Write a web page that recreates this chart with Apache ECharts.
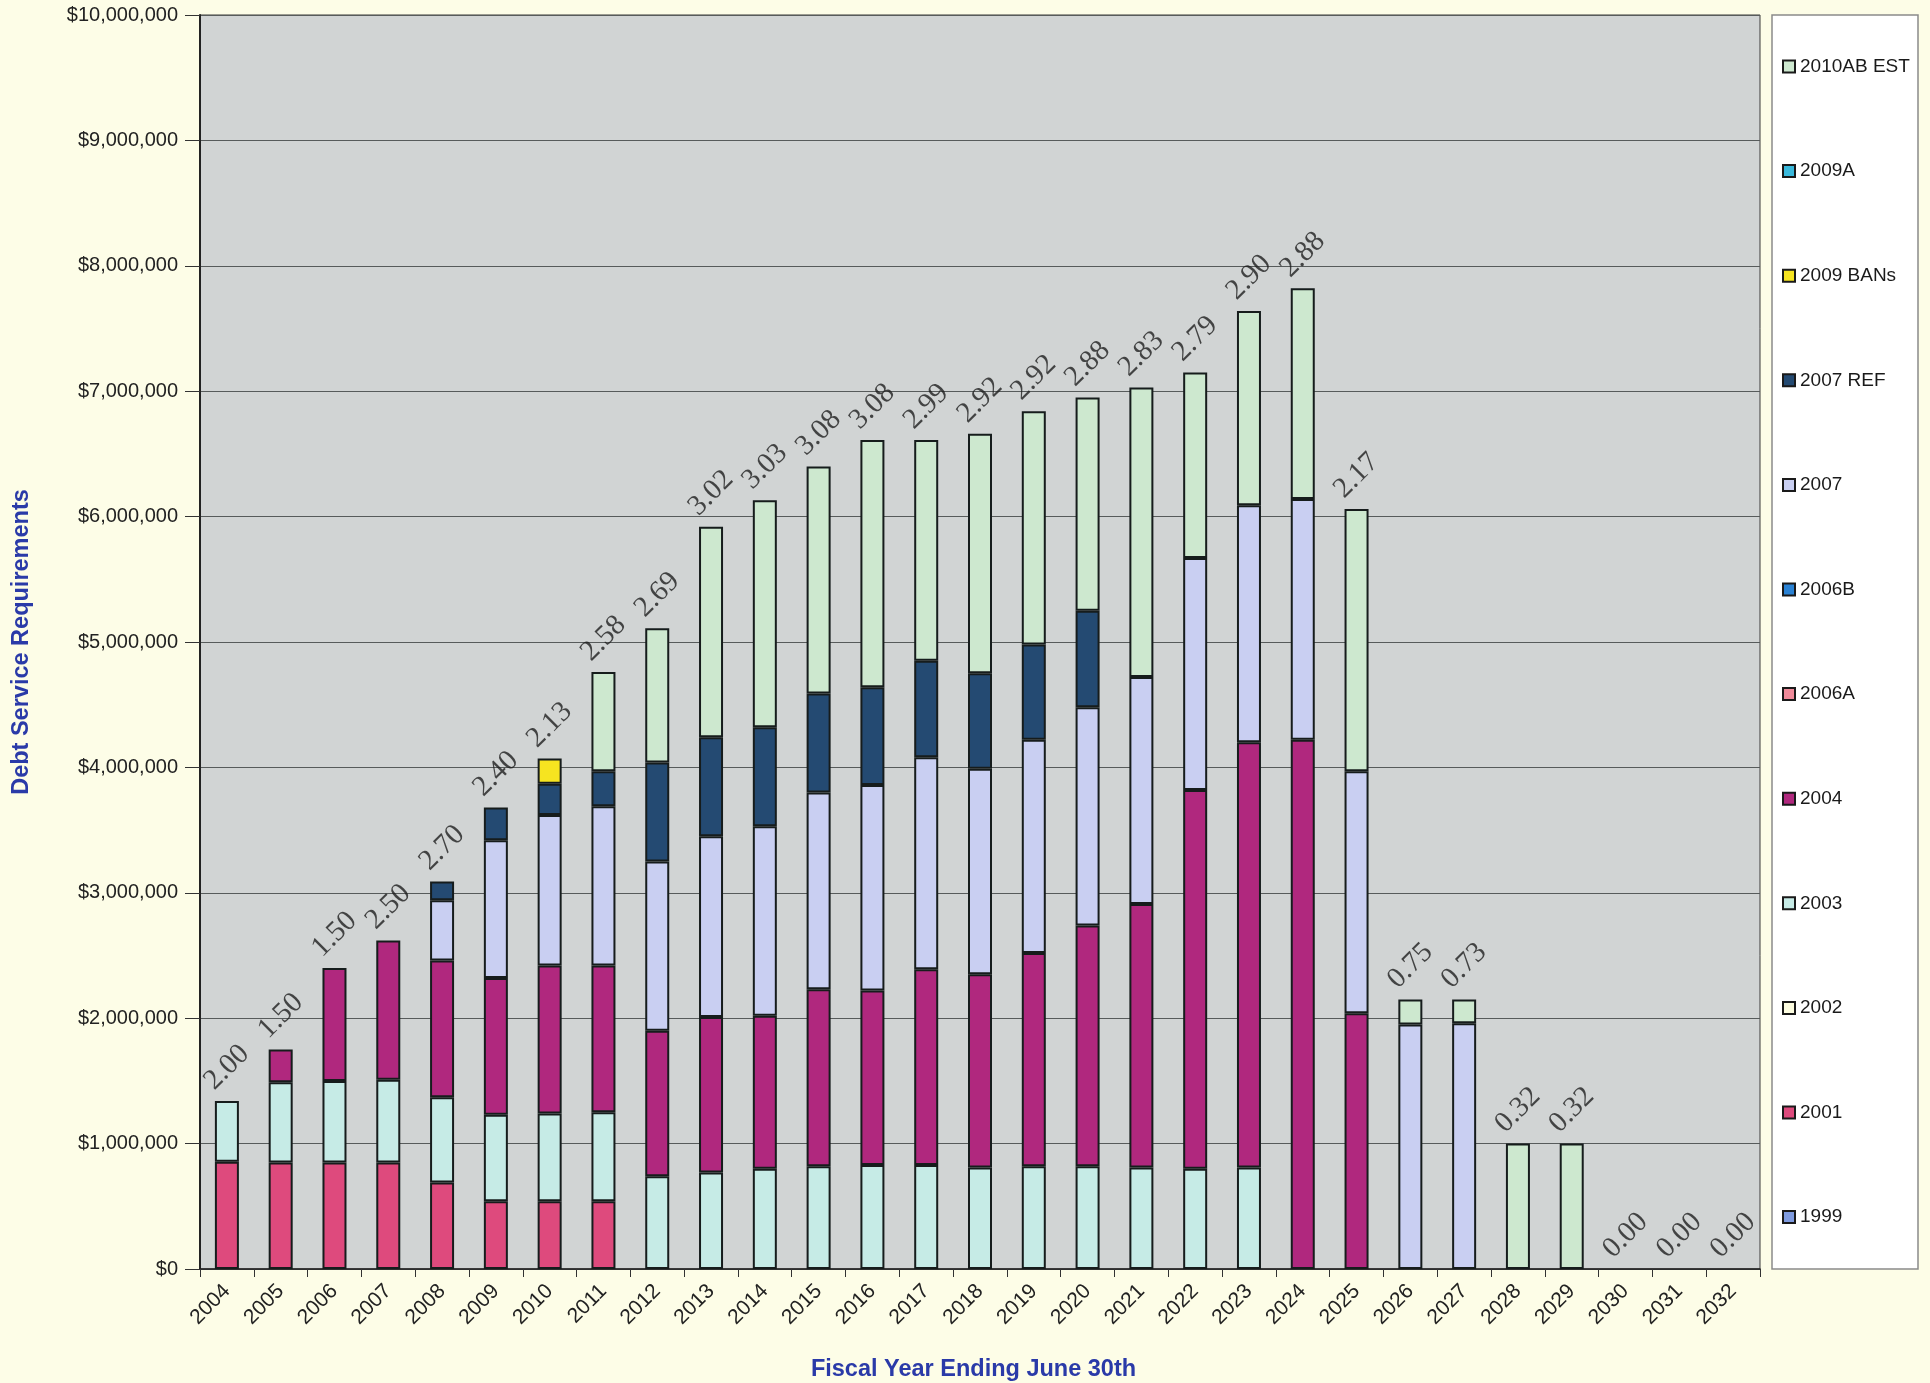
<!DOCTYPE html>
<html>
<head>
<meta charset="utf-8">
<title>Debt Service Requirements</title>
<script src="https://cdn.jsdelivr.net/npm/echarts@6/dist/echarts.min.js"></script>
<style>
  html, body { margin: 0; padding: 0; background: #fdfde7; }
  #chart { width: 1930px; height: 1383px; }
</style>
</head>
<body>
<div id="chart"></div>
<script>
// Fiscal years (ending June 30th)
const years = ['2004','2005','2006','2007','2008','2009','2010','2011','2012','2013',
  '2014','2015','2016','2017','2018','2019','2020','2021','2022','2023',
  '2024','2025','2026','2027','2028','2029','2030','2031','2032'];

// Debt service by bond issue, in dollars
const s1999 = [];
const s2001 = [855000, 850000, 850000, 850000, 690000, 540000, 540000, 540000, 0, 0,
  0, 0, 0, 0, 0, 0, 0, 0, 0, 0, 0, 0, 0, 0, 0, 0, 0, 0, 0];
const s2002 = [];
const s2003 = [485000, 640000, 650000, 660000, 680000, 690000, 700000, 710000, 740000, 770000,
  800000, 820000, 830000, 830000, 810000, 820000, 820000, 810000, 800000, 810000,
  0, 0, 0, 0, 0, 0, 0, 0, 0];
const s2004 = [0, 260000, 900000, 1110000, 1090000, 1090000, 1180000, 1170000, 1160000, 1240000,
  1220000, 1410000, 1390000, 1560000, 1540000, 1700000, 1920000, 2100000, 3020000, 3390000,
  4220000, 2040000, 0, 0, 0, 0, 0, 0, 0];
const s2006A = [];
const s2006B = [];
const s2007 = [0, 0, 0, 0, 480000, 1100000, 1200000, 1270000, 1350000, 1440000,
  1510000, 1570000, 1640000, 1690000, 1640000, 1700000, 1740000, 1810000, 1850000, 1890000,
  1920000, 1930000, 1950000, 1960000, 0, 0, 0, 0, 0];
const s2007Ref = [0, 0, 0, 0, 150000, 260000, 250000, 280000, 790000, 790000,
  790000, 790000, 780000, 770000, 760000, 760000, 770000, 0, 0, 0,
  0, 0, 0, 0, 0, 0, 0, 0, 0];
const s2009Bans = [0, 0, 0, 0, 0, 0, 200000, 0, 0, 0,
  0, 0, 0, 0, 0, 0, 0, 0, 0, 0, 0, 0, 0, 0, 0, 0, 0, 0, 0];
const s2009A = [];
const s2010AB = [0, 0, 0, 0, 0, 0, 0, 790000, 1070000, 1680000,
  1810000, 1810000, 1970000, 1760000, 1910000, 1860000, 1700000, 2310000, 1480000, 1550000,
  1680000, 2090000, 200000, 190000, 1000000, 1000000, 0, 0, 0];

// Coverage ratio printed above each year's column
const coverage = ['2.00','1.50','1.50','2.50','2.70','2.40','2.13','2.58','2.69','3.02',
  '3.03','3.08','3.08','2.99','2.92','2.92','2.88','2.83','2.79','2.90',
  '2.88','2.17','0.75','0.73','0.32','0.32','0.00','0.00','0.00'];

// Y-axis tick range
const yMin = 0, yMax = 10000000, yStep = 1000000;

// Stack order, bottom to top
const issues = [
  { name: '1999',        data: s1999,     color: '#7f9be0' },
  { name: '2001',        data: s2001,     color: '#de4a7d' },
  { name: '2002',        data: s2002,     color: '#fdfde0' },
  { name: '2003',        data: s2003,     color: '#c6ebe6' },
  { name: '2004',        data: s2004,     color: '#b0287e' },
  { name: '2006A',       data: s2006A,    color: '#f08a9a' },
  { name: '2006B',       data: s2006B,    color: '#2a82d4' },
  { name: '2007',        data: s2007,     color: '#c9cff2' },
  { name: '2007 REF',    data: s2007Ref,  color: '#244a72' },
  { name: '2009 BANs',   data: s2009Bans, color: '#f6e420' },
  { name: '2009A',       data: s2009A,    color: '#3ab9dc' },
  { name: '2010AB EST',  data: s2010AB,   color: '#cde8cf' }
];

const totals = years.map((y, i) => issues.reduce((acc, s) => acc + (s.data[i] || 0), 0));

const money = v => '$' + Math.round(v).toString().replace(/\B(?=(\d{3})+(?!\d))/g, ',');

const barSeries = issues.map(s => ({
  name: s.name,
  type: 'bar',
  stack: 'debt',
  barWidth: 24,
  itemStyle: { color: s.color, borderColor: '#161c1c', borderWidth: 2 },
  data: s.data.map(v => (v ? v : null))
}));

const titleFont = 'Liberation Sans Narrow, Arial Narrow, Liberation Sans, sans-serif';
const bodyFont = 'Liberation Sans, Arial, sans-serif';

const chart = echarts.init(document.getElementById('chart'), null, { renderer: 'canvas' });

chart.setOption({
  backgroundColor: '#fdfde7',
  animation: false,
  grid: {
    left: 200, right: 170, top: 15, bottom: 114,
    outerBoundsMode: 'none',
    containLabel: false,
    show: true, backgroundColor: '#d1d4d4', borderColor: '#3a3a3a', borderWidth: 1
  },
  graphic: [{
    type: 'rect',
    shape: { x: 1772, y: 15, width: 146, height: 1254 },
    style: { fill: '#ffffff', stroke: '#8a8a8a', lineWidth: 1.5 },
    z: 0
  }],
  legend: {
    orient: 'vertical',
    left: 1782, top: 57,
    padding: 0,
    itemWidth: 12, itemHeight: 12, itemGap: 85.6,
    itemStyle: { borderColor: '#1a1a1a', borderWidth: 2 },
    icon: 'rect',
    data: issues.map(s => s.name).reverse(),
    textStyle: { fontFamily: bodyFont, fontSize: 19, color: '#1a1a1a', lineHeight: 19 },
    z: 5
  },
  xAxis: {
    type: 'category',
    data: years,
    boundaryGap: true,
    name: 'Fiscal Year Ending June 30th',
    nameLocation: 'middle',
    nameGap: 89,
    nameTextStyle: {
      fontFamily: titleFont, fontWeight: 'bold', fontSize: 23.5, color: '#2a3aa8',
      padding: [0, 13, 0, 0]
    },
    axisLine: { lineStyle: { color: '#222', width: 1.5 } },
    axisTick: { show: true, length: 8, lineStyle: { color: '#333' } },
    axisLabel: {
      rotate: 45, interval: 0, margin: 19,
      fontFamily: bodyFont, fontSize: 21, color: '#222'
    }
  },
  yAxis: {
    type: 'value',
    min: yMin, max: yMax, interval: yStep,
    name: 'Debt Service Requirements',
    nameLocation: 'middle',
    nameGap: 166,
    nameTextStyle: {
      fontFamily: titleFont, fontWeight: 'bold', fontSize: 23.5, color: '#2a3aa8'
    },
    axisLine: { show: true, lineStyle: { color: '#222', width: 2 } },
    axisTick: { show: true, length: 15, lineStyle: { color: '#333' } },
    splitLine: { show: true, lineStyle: { color: '#575b5b', width: 1 } },
    axisLabel: {
      margin: 22,
      formatter: v => money(v),
      fontFamily: bodyFont, fontSize: 20, color: '#222'
    }
  },
  series: barSeries.concat([{
    name: 'coverage',
    type: 'scatter',
    symbolSize: 1,
    itemStyle: { color: 'rgba(0,0,0,0)' },
    silent: true,
    z: 10,
    data: totals.map((t, i) => [i, t]),
    label: {
      show: true,
      position: 'top',
      distance: 33,
      rotate: 45,
      align: 'center',
      verticalAlign: 'middle',
      fontFamily: 'Liberation Serif, Times New Roman, serif',
      fontSize: 29,
      color: '#1e1e1e',
      formatter: p => coverage[p.dataIndex]
    }
  }])
});
</script>
</body>
</html>
